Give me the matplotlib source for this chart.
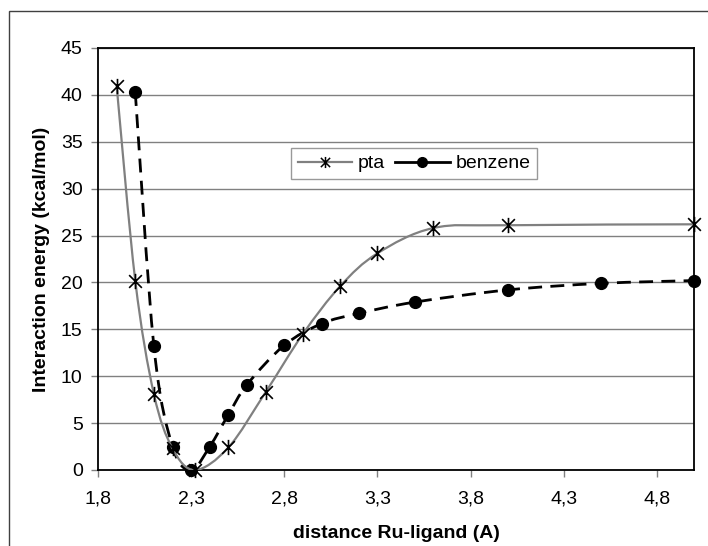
import numpy as np
import matplotlib
matplotlib.use("Agg")
import matplotlib.pyplot as plt
from matplotlib.path import Path
from matplotlib.patches import PathPatch, Rectangle
from matplotlib.lines import Line2D

plt.rcParams['font.family'] = ['Liberation Sans', 'DejaVu Sans']

# values
pta_x = [1.9, 2.0, 2.1, 2.2, 2.32, 2.5, 2.7, 2.9, 3.1, 3.3, 3.6, 4.0, 5.0]
pta_y = [41.0, 20.2, 8.1, 2.3, 0.0, 2.4, 8.3, 14.5, 19.6, 23.1, 25.8, 26.1, 26.2]
benz_x = [2.0, 2.1, 2.2, 2.3, 2.4, 2.5, 2.6, 2.8, 3.0, 3.2, 3.5, 4.0, 4.5, 5.0]
benz_y = [40.3, 13.2, 2.5, 0.0, 2.5, 5.9, 9.1, 13.3, 15.6, 16.7, 17.9, 19.2, 19.9, 20.2]
x_ticks = [1.8, 2.3, 2.8, 3.3, 3.8, 4.3, 4.8]
x_labels = ["1,8", "2,3", "2,8", "3,3", "3,8", "4,3", "4,8"]
y_ticks = [0, 5, 10, 15, 20, 25, 30, 35, 40, 45]


def smooth_path(xs, ys):
    # excel-like smoothed line: bezier segments through the points
    p = np.column_stack([xs, ys]).astype(float)
    n = len(p)
    verts = [p[0]]
    codes = [Path.MOVETO]
    for i in range(n - 1):
        p0 = p[i - 1] if i > 0 else p[i]
        p3 = p[i + 2] if i + 2 < n else p[i + 1]
        c1 = p[i] + (p[i + 1] - p0) / 6
        c2 = p[i + 1] - (p3 - p[i]) / 6
        verts += [c1, c2, p[i + 1]]
        codes += [Path.CURVE4] * 3
    return Path(verts, codes)


# asterisk marker: an X with a vertical bar
star = Path([(-1, -1), (1, 1), (-1, 1), (1, -1), (0, -1.2), (0, 1.2)],
            [Path.MOVETO, Path.LINETO, Path.MOVETO, Path.LINETO, Path.MOVETO, Path.LINETO])

fig = plt.figure(figsize=(7.08, 5.46), dpi=100)
ax = fig.add_axes([98 / 708, 1 - 470 / 546, (694 - 98) / 708, (470 - 48) / 546])

grey = "#808080"

benz_curve = PathPatch(smooth_path(benz_x, benz_y), facecolor="none", edgecolor="black",
                       lw=2.0, linestyle=(0, (5, 3)), zorder=3)
ax.add_patch(benz_curve)
ax.plot(benz_x, benz_y, linestyle="none", marker="o", markersize=8.5,
        color="black", zorder=4, clip_on=False)

pta_curve = PathPatch(smooth_path(pta_x, pta_y), facecolor="none", edgecolor=grey,
                      lw=1.6, zorder=5)
ax.add_patch(pta_curve)
ax.plot(pta_x, pta_y, linestyle="none", marker=star, markersize=11,
        markerfacecolor="none", markeredgecolor="black", markeredgewidth=1.2,
        zorder=6, clip_on=False)

ax.set_xlim(1.8, 5.0)
ax.set_ylim(0, 45)
ax.set_xticks(x_ticks)
ax.set_xticklabels(x_labels)
ax.set_yticks(y_ticks)
ax.yaxis.grid(True, color=grey, lw=1.0)
ax.set_axisbelow(True)
ax.tick_params(axis="both", direction="out", length=5, width=1, color=grey,
               labelsize=14, pad=6)
ax.tick_params(axis="x", pad=10)
for s in ax.spines.values():
    s.set_color("black")
    s.set_linewidth(1.3)

ax.set_xlabel("distance Ru-ligand (A)", fontsize=14, fontweight="bold", labelpad=12)
ax.set_ylabel("Interaction energy (kcal/mol)", fontsize=14, fontweight="bold", labelpad=8)

h_pta = Line2D([], [], color=grey, lw=1.6, marker=star, markersize=8,
               markerfacecolor="none", markeredgecolor="black", markeredgewidth=1.1)
h_benz = Line2D([], [], color="black", lw=2.0, marker="o", markersize=7)
leg = ax.legend([h_pta, h_benz], ["pta", "benzene"], ncol=2, loc="upper left",
                bbox_to_anchor=(291 / 708, 1 - 148 / 546), bbox_transform=fig.transFigure,
                fontsize=14, frameon=True, fancybox=False, handlelength=2.8,
                handletextpad=0.3, columnspacing=0.5, borderpad=0.35, borderaxespad=0)
leg.get_frame().set_edgecolor(grey)
leg.get_frame().set_linewidth(1.0)

# outer chart border
fig.patches.append(Rectangle((9 / 708, -0.01), 1.0, 1 - 11 / 546 + 0.01,
                             transform=fig.transFigure, fill=False,
                             edgecolor="#404040", lw=1.0))

fig.savefig("out.png", dpi=100)
